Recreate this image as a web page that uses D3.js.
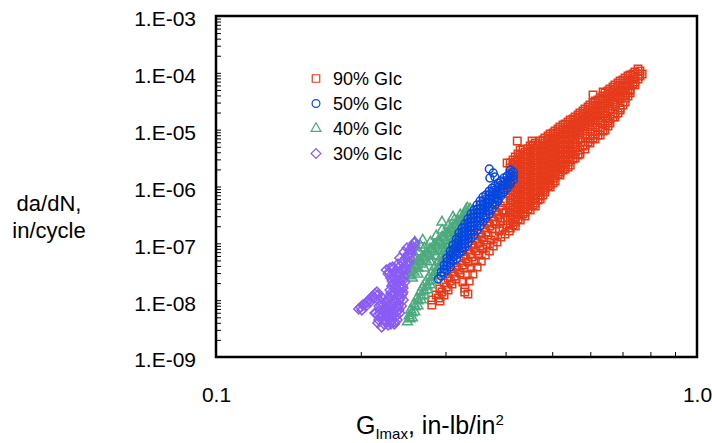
<!DOCTYPE html>
<html>
<head>
<meta charset="utf-8">
<script src="https://cdn.jsdelivr.net/npm/d3@7"></script>
<style>
  body { margin: 0; background: #fff; }
  svg { display: block; font-family: "Liberation Sans", Arial, sans-serif; }
</style>
</head>
<body>
<svg id="chart" width="712" height="443"></svg>
<script>
const seriesNames = ["90% GIc", "50% GIc", "40% GIc", "30% GIc"];
const seriesColors = ["#e63b1b", "#0747df", "#4caa7e", "#8b5cf4"];
const seriesShapes = ["square", "circle", "triangle", "diamond"];
const drawOrder = [0, 2, 1, 3];

const xMajor = [0.1, 1];
const xMajorLabels = ["0.1", "1.0"];
const yMajor = [1e-9, 1e-8, 1e-7, 1e-6, 1e-5, 1e-4, 1e-3];
const yMajorLabels = ["1.E-09", "1.E-08", "1.E-07", "1.E-06", "1.E-05", "1.E-04", "1.E-03"];

// G (in-lb/in^2), da/dN (in/cycle)
const glc90 = [
  [.281,8.22e-9],[.281,1.01e-8],[.287,1.23e-8],[.292,1.57e-8],[.298,2.00e-8],[.304,2.45e-8],[.310,3.12e-8],[.316,3.83e-8],
  [.322,4.88e-8],[.328,5.97e-8],[.334,7.62e-8],[.341,9.33e-8],[.347,1.19e-7],[.354,1.46e-7],[.361,1.86e-7],[.368,2.28e-7],
  [.375,2.90e-7],[.382,3.56e-7],[.390,4.53e-7],[.397,5.55e-7],
  [.290,1.09e-8],[.295,1.39e-8],[.301,1.70e-8],[.307,2.17e-8],[.313,2.66e-8],[.319,3.39e-8],[.325,4.15e-8],[.331,5.29e-8],
  [.338,6.48e-8],[.344,8.26e-8],[.351,1.01e-7],[.357,1.29e-7],[.364,1.58e-7],[.371,2.02e-7],[.379,2.47e-7],[.386,3.15e-7],[.393,3.86e-7],
  [.2923,9.69e-9],[.2979,1.23e-8],[.3037,1.51e-8],[.3095,1.92e-8],[.3156,2.35e-8],[.3217,3.00e-8],[.3280,3.67e-8],
  [.3342,4.69e-8],[.3407,5.74e-8],[.3473,7.32e-8],[.3540,8.96e-8],[.3608,1.14e-7],[.3678,1.40e-7],[.3749,1.79e-7],
  [.3821,2.19e-7],[.3895,2.79e-7],[.3970,3.41e-7],
  [.329,1.39e-8],[.334,1.28e-8],[.329,1.64e-8],[.336,2.17e-8],[.342,2.88e-8],[.349,3.83e-8],[.356,4.88e-8],[.363,6.22e-8],
  [.370,7.32e-8],[.377,8.96e-8],[.384,1.05e-7],[.391,1.29e-7],[.399,1.46e-7],[.407,1.65e-7],
  [.326,2.08e-8],[.333,2.77e-8],[.339,3.67e-8],[.346,4.88e-8],[.352,6.22e-8],[.359,7.93e-8],[.366,9.33e-8],[.373,1.14e-7],
  [.380,1.35e-7],[.388,1.65e-7],[.395,1.86e-7],[.403,2.10e-7],
  [.390,2.37e-7],[.399,2.79e-7],[.401,3.56e-7],
  [.423,6.32e-6],[.454,6.32e-6],[.403,2.59e-6],[.415,2.20e-6],[.608,4.07e-5],[.638,4.60e-5],[.754,1.166e-4],[.769,9.52e-5],
  [.409,2.59e-6],[.409,2.11e-6],[.409,1.73e-6],[.409,1.41e-6],[.409,1.15e-6],[.409,9.39e-7],[.409,7.67e-7],[.409,6.27e-7],
  [.409,5.12e-7],[.409,4.18e-7],[.409,3.41e-7],[.409,2.79e-7],[.409,2.28e-7],[.409,1.86e-7],
  [.419,3.30e-6],[.419,2.70e-6],[.419,2.20e-6],[.419,1.80e-6],[.419,1.47e-6],[.419,1.20e-6],[.419,9.78e-7],[.419,7.99e-7],
  [.419,6.53e-7],[.419,5.33e-7],[.419,4.35e-7],[.419,3.56e-7],[.419,2.90e-7],[.419,2.37e-7],[.419,2.02e-7],
  [.429,4.39e-6],[.429,3.58e-6],[.429,2.92e-6],[.429,2.39e-6],[.429,1.95e-6],[.429,1.59e-6],[.429,1.30e-6],[.429,1.06e-6],
  [.429,8.67e-7],[.429,7.08e-7],[.429,5.78e-7],[.429,4.72e-7],[.429,3.86e-7],[.429,3.15e-7],[.429,2.57e-7],
  [.439,4.05e-6],[.439,3.30e-6],[.439,2.70e-6],[.439,2.20e-6],[.439,1.80e-6],[.439,1.47e-6],[.439,1.20e-6],[.439,9.78e-7],
  [.439,7.99e-7],[.439,6.53e-7],[.439,5.33e-7],[.439,4.35e-7],[.439,3.56e-7],[.439,3.02e-7],
  [.450,5.16e-6],[.450,4.21e-6],[.450,3.44e-6],[.450,2.81e-6],[.450,2.29e-6],[.450,1.87e-6],[.450,1.53e-6],[.450,1.25e-6],
  [.450,1.02e-6],[.450,8.32e-7],[.450,6.80e-7],[.450,5.55e-7],[.450,4.53e-7],[.450,3.86e-7],
  [.461,5.82e-6],[.461,4.76e-6],[.461,3.89e-6],[.461,3.17e-6],[.461,2.59e-6],[.461,2.11e-6],[.461,1.73e-6],[.461,1.41e-6],
  [.461,1.15e-6],[.461,9.39e-7],[.461,7.67e-7],[.461,6.27e-7],[.461,5.12e-7],[.461,4.53e-7],
  [.472,6.32e-6],[.472,5.16e-6],[.472,4.21e-6],[.472,3.44e-6],[.472,2.81e-6],[.472,2.29e-6],[.472,1.87e-6],[.472,1.53e-6],
  [.472,1.25e-6],[.472,1.02e-6],[.472,8.32e-7],[.472,6.80e-7],[.472,6.02e-7],
  [.483,7.13e-6],[.483,5.82e-6],[.483,4.76e-6],[.483,3.89e-6],[.483,3.17e-6],[.483,2.59e-6],[.483,2.11e-6],[.483,1.73e-6],
  [.483,1.41e-6],[.483,1.15e-6],[.483,9.39e-7],[.483,7.99e-7],
  [.495,8.38e-6],[.495,6.85e-6],[.495,5.59e-6],[.495,4.57e-6],[.495,3.73e-6],[.495,3.05e-6],[.495,2.49e-6],[.495,2.03e-6],
  [.495,1.66e-6],[.495,1.35e-6],[.495,1.10e-6],[.495,9.78e-7],
  [.507,9.47e-6],[.507,7.73e-6],[.507,6.32e-6],[.507,5.16e-6],[.507,4.21e-6],[.507,3.44e-6],[.507,2.81e-6],[.507,2.29e-6],
  [.507,1.87e-6],[.507,1.53e-6],[.507,1.25e-6],
  [.519,1.12e-5],[.519,9.09e-6],[.519,7.42e-6],[.519,6.06e-6],[.519,4.95e-6],[.519,4.05e-6],[.519,3.30e-6],[.519,2.70e-6],
  [.519,2.20e-6],[.519,1.80e-6],[.519,1.59e-6],
  [.532,1.26e-5],[.532,1.03e-5],[.532,8.38e-6],[.532,6.85e-6],[.532,5.59e-6],[.532,4.57e-6],[.532,3.73e-6],[.532,3.05e-6],
  [.532,2.49e-6],[.532,2.03e-6],
  [.545,1.48e-5],[.545,1.21e-5],[.545,9.86e-6],[.545,8.05e-6],[.545,6.58e-6],[.545,5.37e-6],[.545,4.39e-6],[.545,3.58e-6],
  [.545,2.92e-6],[.545,2.39e-6],
  [.558,1.67e-5],[.558,1.37e-5],[.558,1.12e-5],[.558,9.09e-6],[.558,7.42e-6],[.558,6.06e-6],[.558,4.95e-6],[.558,4.05e-6],[.558,3.17e-6],
  [.571,1.97e-5],[.571,1.61e-5],[.571,1.31e-5],[.571,1.07e-5],[.571,8.73e-6],[.571,7.13e-6],[.571,4.39e-6],[.571,3.73e-6],
  [.585,2.31e-5],[.585,1.89e-5],[.585,1.54e-5],[.585,1.26e-5],[.585,1.03e-5],[.585,8.38e-6],[.585,5.37e-6],[.585,4.57e-6],
  [.599,2.72e-5],[.599,2.22e-5],[.599,1.81e-5],[.599,1.48e-5],[.599,1.21e-5],[.599,1.03e-5],[.599,6.85e-6],[.599,5.82e-6],
  [.614,3.20e-5],[.614,2.61e-5],[.614,2.13e-5],[.614,1.74e-5],[.614,1.42e-5],[.614,1.21e-5],[.614,8.38e-6],[.614,6.85e-6],
  [.629,3.61e-5],[.629,2.95e-5],[.629,2.41e-5],[.629,1.97e-5],[.629,1.61e-5],[.629,1.42e-5],[.629,9.86e-6],[.629,8.05e-6],
  [.644,4.42e-5],[.644,3.61e-5],[.644,2.95e-5],[.644,2.41e-5],[.644,1.97e-5],[.644,1.74e-5],[.644,1.21e-5],[.644,9.86e-6],
  [.659,5.20e-5],[.659,4.24e-5],[.659,3.47e-5],[.659,2.83e-5],[.659,2.31e-5],[.659,1.54e-5],[.659,1.31e-5],
  [.675,6.11e-5],[.675,4.99e-5],[.675,4.07e-5],[.675,3.33e-5],[.675,2.83e-5],[.675,1.89e-5],[.675,1.67e-5],
  [.692,7.18e-5],[.692,5.87e-5],[.692,4.79e-5],[.692,3.91e-5],[.692,3.47e-5],[.692,2.41e-5],[.692,2.22e-5],
  [.709,8.11e-5],[.709,6.62e-5],[.709,5.41e-5],[.709,4.42e-5],[.709,3.61e-5],[.709,3.07e-5],
  [.726,9.16e-5],[.726,7.48e-5],[.726,6.11e-5],[.726,4.99e-5],[.726,4.42e-5],
  [.743,1.033e-4],[.743,8.44e-5],[.743,6.90e-5],[.743,6.11e-5],
  [.761,1.075e-4],[.761,8.79e-5],
  [.4145,2.92e-6],[.4145,2.39e-6],[.4145,1.95e-6],[.4145,1.59e-6],[.4145,1.30e-6],[.4145,1.06e-6],[.4145,8.67e-7],
  [.4145,7.08e-7],[.4145,5.78e-7],[.4145,4.72e-7],[.4145,3.86e-7],[.4145,3.15e-7],[.4145,2.57e-7],[.4145,2.10e-7],
  [.4245,3.73e-6],[.4245,3.05e-6],[.4245,2.49e-6],[.4245,2.03e-6],[.4245,1.66e-6],[.4245,1.35e-6],[.4245,1.10e-6],
  [.4245,9.02e-7],[.4245,7.37e-7],[.4245,6.02e-7],[.4245,4.91e-7],[.4245,4.01e-7],[.4245,3.28e-7],[.4245,2.68e-7],
  [.4348,4.57e-6],[.4348,3.73e-6],[.4348,3.05e-6],[.4348,2.49e-6],[.4348,2.03e-6],[.4348,1.66e-6],[.4348,1.35e-6],
  [.4348,1.10e-6],[.4348,9.02e-7],[.4348,7.37e-7],[.4348,6.02e-7],[.4348,4.91e-7],[.4348,4.01e-7],[.4348,3.28e-7],
  [.4454,4.57e-6],[.4454,3.73e-6],[.4454,3.05e-6],[.4454,2.49e-6],[.4454,2.03e-6],[.4454,1.66e-6],[.4454,1.35e-6],
  [.4454,1.10e-6],[.4454,9.02e-7],[.4454,7.37e-7],[.4454,6.02e-7],[.4454,4.91e-7],[.4454,4.01e-7],
  [.4562,5.37e-6],[.4562,4.39e-6],[.4562,3.58e-6],[.4562,2.92e-6],[.4562,2.39e-6],[.4562,1.95e-6],[.4562,1.59e-6],
  [.4562,1.30e-6],[.4562,1.06e-6],[.4562,8.67e-7],[.4562,7.08e-7],[.4562,5.78e-7],[.4562,4.72e-7],
  [.4672,5.37e-6],[.4672,4.39e-6],[.4672,3.58e-6],[.4672,2.92e-6],[.4672,2.39e-6],[.4672,1.95e-6],[.4672,1.59e-6],
  [.4672,1.30e-6],[.4672,1.06e-6],[.4672,8.67e-7],[.4672,7.08e-7],[.4672,5.78e-7],
  [.4785,6.58e-6],[.4785,5.37e-6],[.4785,4.39e-6],[.4785,3.58e-6],[.4785,2.92e-6],[.4785,2.39e-6],[.4785,1.95e-6],
  [.4785,1.59e-6],[.4785,1.30e-6],[.4785,1.06e-6],[.4785,8.67e-7],[.4785,7.08e-7],
  [.4902,7.73e-6],[.4902,6.32e-6],[.4902,5.16e-6],[.4902,4.21e-6],[.4902,3.44e-6],[.4902,2.81e-6],[.4902,2.29e-6],
  [.4902,1.87e-6],[.4902,1.53e-6],[.4902,1.25e-6],[.4902,1.02e-6],
  [.5021,8.73e-6],[.5021,7.13e-6],[.5021,5.82e-6],[.5021,4.76e-6],[.5021,3.89e-6],[.5021,3.17e-6],[.5021,2.59e-6],
  [.5021,2.11e-6],[.5021,1.73e-6],[.5021,1.41e-6],[.5021,1.15e-6],
  [.5142,1.03e-5],[.5142,8.38e-6],[.5142,6.85e-6],[.5142,5.59e-6],[.5142,4.57e-6],[.5142,3.73e-6],[.5142,3.05e-6],
  [.5142,2.49e-6],[.5142,2.03e-6],[.5142,1.66e-6],
  [.5266,1.21e-5],[.5266,9.86e-6],[.5266,8.05e-6],[.5266,6.58e-6],[.5266,5.37e-6],[.5266,4.39e-6],[.5266,3.58e-6],
  [.5266,2.92e-6],[.5266,2.39e-6],[.5266,1.95e-6],
  [.5394,1.37e-5],[.5394,1.12e-5],[.5394,9.09e-6],[.5394,7.42e-6],[.5394,6.06e-6],[.5394,4.95e-6],[.5394,4.05e-6],
  [.5394,3.30e-6],[.5394,2.70e-6],[.5394,2.20e-6],
  [.5525,1.54e-5],[.5525,1.26e-5],[.5525,1.03e-5],[.5525,8.38e-6],[.5525,6.85e-6],[.5525,5.59e-6],[.5525,4.57e-6],
  [.5525,3.73e-6],[.5525,3.05e-6],
  [.5659,1.81e-5],[.5659,1.48e-5],[.5659,1.21e-5],[.5659,9.86e-6],[.5659,8.05e-6],[.5659,6.58e-6],[.5659,3.58e-6],
  [.5795,2.13e-5],[.5795,1.74e-5],[.5795,1.42e-5],[.5795,1.16e-5],[.5795,9.47e-6],[.5795,5.16e-6],
  [.5935,2.51e-5],[.5935,2.05e-5],[.5935,1.67e-5],[.5935,1.37e-5],[.5935,1.12e-5],[.5935,6.06e-6],
  [.6078,2.95e-5],[.6078,2.41e-5],[.6078,1.97e-5],[.6078,1.61e-5],[.6078,1.31e-5],[.6078,7.13e-6],
  [.6225,3.33e-5],[.6225,2.72e-5],[.6225,2.22e-5],[.6225,1.81e-5],[.6225,1.48e-5],[.6225,8.05e-6],
  [.6376,3.91e-5],[.6376,3.20e-5],[.6376,2.61e-5],[.6376,2.13e-5],[.6376,1.74e-5],[.6376,9.47e-6],
  [.6531,4.79e-5],[.6531,3.91e-5],[.6531,3.20e-5],[.6531,2.61e-5],[.6531,2.13e-5],[.6531,1.42e-5],[.6531,1.16e-5],
  [.6689,5.63e-5],[.6689,4.60e-5],[.6689,3.76e-5],[.6689,3.07e-5],[.6689,1.67e-5],
  [.6851,6.62e-5],[.6851,5.41e-5],[.6851,4.42e-5],[.6851,3.61e-5],[.6851,1.97e-5],
  [.7017,7.48e-5],[.7017,6.11e-5],[.7017,4.99e-5],[.7017,4.07e-5],[.7017,2.72e-5],
  [.7187,8.79e-5],[.7187,7.18e-5],[.7187,5.87e-5],[.7187,4.79e-5],[.7187,3.91e-5],
  [.7361,9.52e-5],[.7361,7.79e-5],[.7361,6.36e-5],
  [.7540,9.52e-5],[.7540,7.79e-5]
];

const glc50 = [
  [.290,2.35e-8],[.294,3.12e-8],[.294,2.66e-8],
  [.298,4.15e-8],[.298,3.53e-8],[.298,3.00e-8],
  [.302,5.51e-8],[.302,4.69e-8],[.302,3.99e-8],[.302,3.39e-8],
  [.307,7.32e-8],[.307,6.22e-8],[.307,5.29e-8],[.307,4.50e-8],[.307,3.83e-8],
  [.311,9.33e-8],[.311,7.93e-8],[.311,6.75e-8],[.311,5.74e-8],[.311,4.88e-8],
  [.316,1.19e-7],[.316,1.01e-7],[.316,8.60e-8],[.316,7.32e-8],[.316,6.22e-8],[.316,5.29e-8],
  [.320,1.52e-7],[.320,1.29e-7],[.320,1.095e-7],[.320,9.33e-8],[.320,7.93e-8],[.320,6.75e-8],
  [.325,1.86e-7],[.325,1.58e-7],[.325,1.35e-7],[.325,1.14e-7],[.325,9.70e-8],[.325,8.26e-8],[.325,7.32e-8],
  [.329,2.19e-7],[.329,1.86e-7],[.329,1.58e-7],[.329,1.35e-7],[.329,1.14e-7],[.329,9.70e-8],[.329,8.60e-8],
  [.334,2.68e-7],[.334,2.28e-7],[.334,1.94e-7],[.334,1.65e-7],[.334,1.40e-7],[.334,1.19e-7],[.334,1.01e-7],
  [.339,3.28e-7],[.339,2.79e-7],[.339,2.37e-7],[.339,2.02e-7],[.339,1.71e-7],[.339,1.46e-7],[.339,1.24e-7],
  [.344,3.86e-7],[.344,3.28e-7],[.344,2.79e-7],[.344,2.37e-7],[.344,2.02e-7],[.344,1.71e-7],[.344,1.40e-7],
  [.349,4.72e-7],[.349,4.01e-7],[.349,3.41e-7],[.349,2.90e-7],[.349,2.47e-7],[.349,2.10e-7],[.349,1.71e-7],
  [.354,5.55e-7],[.354,4.72e-7],[.354,4.01e-7],[.354,3.41e-7],[.354,2.90e-7],[.354,2.47e-7],[.354,2.02e-7],
  [.359,6.53e-7],[.359,5.55e-7],[.359,4.72e-7],[.359,4.01e-7],[.359,3.41e-7],[.359,2.90e-7],[.359,2.37e-7],
  [.364,7.08e-7],[.364,6.02e-7],[.364,5.12e-7],[.364,4.35e-7],[.364,3.70e-7],[.364,3.15e-7],[.364,2.79e-7],
  [.370,8.32e-7],[.370,7.08e-7],[.370,6.02e-7],[.370,5.12e-7],[.370,4.35e-7],[.370,3.70e-7],[.370,3.28e-7],
  [.375,9.39e-7],[.375,7.99e-7],[.375,6.80e-7],[.375,5.78e-7],[.375,4.91e-7],[.375,4.01e-7],
  [.380,1.02e-6],[.380,8.67e-7],[.380,7.37e-7],[.380,6.27e-7],[.380,5.33e-7],[.380,4.72e-7],
  [.386,1.15e-6],[.386,9.78e-7],[.386,8.32e-7],[.386,7.08e-7],[.386,6.02e-7],[.386,5.55e-7],
  [.391,1.25e-6],[.391,1.06e-6],[.391,9.02e-7],[.391,7.67e-7],[.391,6.80e-7],
  [.397,1.41e-6],[.397,1.20e-6],[.397,1.02e-6],[.397,8.67e-7],[.397,7.99e-7],
  [.403,1.53e-6],[.403,1.30e-6],[.403,1.10e-6],[.403,9.39e-7],
  [.409,1.66e-6],[.409,1.41e-6],[.409,1.20e-6],[.409,1.10e-6],
  [.415,1.80e-6],[.415,1.53e-6],[.415,1.30e-6],
  [.370,2.03e-6],[.371,1.41e-6],[.380,1.47e-6],[.377,1.73e-6],[.409,1.95e-6]
];

const glc40 = [
  [.251,2.88e-8],[.256,3.39e-8],[.261,3.99e-8],[.266,4.69e-8],[.271,5.51e-8],[.276,6.48e-8],[.281,7.62e-8],[.287,8.96e-8],
  [.292,1.05e-7],[.298,1.24e-7],[.304,1.46e-7],[.310,1.71e-7],[.316,2.02e-7],[.322,2.37e-7],[.328,2.79e-7],[.334,3.28e-7],[.341,3.70e-7],
  [.258,5.51e-8],[.264,7.03e-8],[.271,8.26e-8],[.279,1.05e-7],[.287,1.35e-7],[.295,1.71e-7],[.304,2.02e-7],[.313,2.57e-7],
  [.322,3.15e-7],[.331,3.86e-7],
  [.259,1.05e-7],[.269,1.14e-7],[.295,2.37e-7],[.311,2.90e-7],[.333,4.18e-7],
  [.2556,7.62e-8],[.2605,8.60e-8],[.2656,9.33e-8],
  [.256,2.45e-8],[.263,2.88e-8],[.271,3.67e-8],[.279,4.69e-8],[.287,5.97e-8],[.295,7.62e-8],[.304,9.70e-8],[.313,1.24e-7],
  [.322,1.58e-7],[.331,2.02e-7],[.339,2.57e-7],
  [.2531,3.53e-8],[.2580,4.15e-8],[.2630,4.88e-8],[.2681,5.74e-8],[.2733,6.75e-8],[.2786,7.93e-8],[.2840,9.33e-8],
  [.2895,1.095e-7],[.2951,1.29e-7],[.3008,1.52e-7],[.3066,1.79e-7],[.3125,2.10e-7],[.3186,2.47e-7],[.3248,2.90e-7],
  [.3310,3.41e-7],[.3375,4.01e-7],
  [.2531,2.66e-8],[.2580,3.12e-8],[.2630,3.67e-8],[.2681,4.32e-8],[.2733,5.08e-8],[.2786,5.97e-8],[.2840,7.03e-8],
  [.2895,8.26e-8],[.2951,9.70e-8],[.3008,1.14e-7],[.3066,1.35e-7],[.3125,1.58e-7],[.3186,1.86e-7],[.3248,2.19e-7],
  [.3310,2.57e-7],[.3375,3.02e-7],
  [.250,4.13e-9],[.252,5.26e-9],[.254,6.71e-9],[.258,8.58e-9],[.262,1.09e-8],[.266,1.39e-8],[.269,1.70e-8],[.273,2.08e-8],
  [.277,2.55e-8],[.281,3.12e-8],[.285,3.83e-8],[.290,4.69e-8],[.294,5.74e-8],[.298,7.03e-8],[.302,8.26e-8],[.307,9.70e-8],[.311,1.14e-7],
  [.256,4.85e-9],[.259,6.19e-9],[.263,7.90e-9],[.267,1.01e-8],[.271,1.23e-8],[.275,1.51e-8],[.279,1.85e-8],[.283,2.26e-8],
  [.287,2.77e-8],[.291,3.39e-8],[.295,4.15e-8],[.299,5.08e-8],[.304,5.97e-8],[.308,7.03e-8],[.314,8.26e-8],
  [.2531,4.66e-9],[.2556,5.94e-9],[.2593,7.58e-9],[.2630,9.69e-9],[.2669,1.18e-8],[.2707,1.45e-8],[.2746,1.77e-8],
  [.2786,2.17e-8],[.2826,2.66e-8],[.2867,3.25e-8],[.2909,3.99e-8],[.2951,4.88e-8],[.2993,5.97e-8],[.3037,7.03e-8],[.3081,8.26e-8]
];

const glc30 = [
  [.198,6.99e-9],[.200,7.58e-9],[.202,8.22e-9],[.204,8.58e-9],[.206,9.30e-9],[.208,1.01e-8],[.210,1.09e-8],[.212,1.18e-8],
  [.214,1.28e-8],[.216,1.39e-8],[.201,6.71e-9],[.205,7.90e-9],[.209,9.30e-9],[.213,1.09e-8],[.217,1.23e-8],[.218,1.01e-8],
  [.220,8.22e-9],[.219,6.71e-9],[.217,5.48e-9],[.215,5.94e-9],[.218,4.48e-9],[.222,1.09e-8],[.225,9.30e-9],[.227,7.90e-9],
  [.229,6.71e-9],[.225,6.19e-9],[.222,5.26e-9],[.227,4.85e-9],[.230,4.13e-9],[.233,5.26e-9],[.237,6.19e-9],[.232,8.58e-9],
  [.236,1.01e-8],[.239,1.18e-8],[.234,1.34e-8],[.230,1.51e-8],[.232,1.77e-8],[.237,1.64e-8],[.241,1.39e-8],[.244,1.77e-8],
  [.240,2.08e-8],[.236,2.26e-8],[.231,2.45e-8],[.228,2.88e-8],[.226,3.39e-8],[.230,3.67e-8],[.235,3.12e-8],[.239,2.66e-8],
  [.243,3.39e-8],[.246,2.66e-8],[.247,3.99e-8],[.244,4.69e-8],[.248,5.51e-8],[.251,6.48e-8],[.253,7.62e-8],[.256,8.96e-8],
  [.258,1.01e-7],[.253,5.51e-8],[.250,4.32e-8],[.247,2.08e-8],[.245,1.01e-8],[.243,7.90e-9],[.240,6.71e-9],[.241,5.94e-9],
  [.238,4.48e-9],[.228,3.66e-9],[.221,3.37e-9],[.217,3.96e-9],[.214,5.94e-9],[.246,7.03e-8],[.241,5.51e-8],[.233,3.83e-8],
  [.224,7.28e-9],[.228,1.01e-8],[.232,1.18e-8],[.237,7.90e-9],[.231,5.71e-9],[.226,4.13e-9],[.235,3.81e-9],[.240,8.58e-9],
  [.244,1.28e-8],[.248,3.39e-8],[.238,1.92e-8],[.245,2.26e-8],[.239,3.67e-8],[.252,4.69e-8],[.259,1.05e-7],[.257,8.26e-8],
  [.2334,1.92e-8],[.2425,2.26e-8],[.2379,1.45e-8],[.2425,1.14e-8],[.2290,1.14e-8],[.2214,8.93e-9],[.2257,6.71e-9],
  [.2300,7.58e-9],[.2345,6.99e-9],[.2390,7.58e-9],[.2193,5.71e-9],[.2235,4.48e-9],[.2279,5.94e-9],[.2323,4.48e-9],
  [.2367,5.26e-9],[.2235,3.81e-9],[.2311,3.81e-9],[.2290,3.12e-8],[.2334,2.66e-8],[.2379,3.12e-8],[.2390,4.32e-8],
  [.2495,8.26e-8],[.2544,6.48e-8],[.2448,1.39e-8],
  [.2182,7.90e-9],[.2225,6.45e-9],[.2268,4.13e-9],[.2356,4.13e-9],[.2402,1.01e-8],[.2334,1.01e-8],[.2311,1.34e-8],
  [.2356,1.70e-8],[.2402,1.70e-8],[.2448,1.64e-8],[.2323,2.17e-8],[.2413,3.00e-8],[.2448,3.39e-8],[.2345,3.67e-8],
  [.2460,5.08e-8],[.2279,5.05e-9],[.2193,4.85e-9]
];

const seriesData = [glc90, glc50, glc40, glc30];

const plotLeft = 216, plotRight = 697, plotTop = 16, plotBottom = 357;

const svg = d3.select("#chart");

const x = d3.scaleLog().domain([0.1, 1]).range([plotLeft, plotRight]);
const y = d3.scaleLog().domain([1e-9, 1e-3]).range([plotBottom, plotTop]);

const shapes = {
  square: d3.symbol(d3.symbolSquare, 56)(),
  circle: d3.symbol(d3.symbolCircle, 48)(),
  triangle: d3.symbol(d3.symbolTriangle, 42)(),
  diamond: d3.symbol(d3.symbolSquare, 48)()
};
const rot = (shape) => (shape === "diamond" ? " rotate(45)" : "");

svg.append("defs").append("clipPath").attr("id", "clip")
  .append("rect").attr("x", plotLeft).attr("y", plotTop)
  .attr("width", plotRight - plotLeft).attr("height", plotBottom - plotTop);

const plot = svg.append("g").attr("clip-path", "url(#clip)");

drawOrder.forEach((i) => {
  plot.append("g")
    .selectAll("path")
    .data(seriesData[i])
    .join("path")
    .attr("d", shapes[seriesShapes[i]])
    .attr("transform", (d) => `translate(${x(d[0])},${y(d[1])})${rot(seriesShapes[i])}`)
    .attr("fill", "none")
    .attr("stroke", seriesColors[i])
    .attr("stroke-width", 1.5);
});

// minor ticks, drawn inward
const yMinor = svg.append("g").attr("transform", `translate(${plotLeft},0)`)
  .call(d3.axisLeft(y).tickValues(y.ticks()).tickSize(-5).tickFormat(""));
yMinor.select(".domain").remove();
yMinor.selectAll("line").attr("stroke", "#000").attr("stroke-width", 1);

const xMinor = svg.append("g").attr("transform", `translate(0,${plotBottom})`)
  .call(d3.axisBottom(x).tickValues(x.ticks()).tickSize(-5).tickFormat(""));
xMinor.select(".domain").remove();
xMinor.selectAll("line").attr("stroke", "#000").attr("stroke-width", 1);

// tick labels
const yLab = svg.append("g").attr("transform", `translate(${plotLeft},0)`)
  .call(d3.axisLeft(y).tickValues(yMajor).tickSize(0).tickPadding(20)
    .tickFormat((d, i) => yMajorLabels[i]));
yLab.select(".domain").remove();
yLab.attr("font-size", 21).attr("font-family", "Liberation Sans, Arial, sans-serif");
yLab.selectAll("text").attr("dy", "0.47em").attr("fill", "#000");

const xLab = svg.append("g").attr("transform", `translate(0,${plotBottom})`)
  .call(d3.axisBottom(x).tickValues(xMajor).tickSize(0).tickPadding(30)
    .tickFormat((d, i) => xMajorLabels[i]));
xLab.select(".domain").remove();
xLab.attr("font-size", 21).attr("font-family", "Liberation Sans, Arial, sans-serif");
xLab.selectAll("text").attr("fill", "#000");

// frame
svg.append("rect")
  .attr("x", plotLeft).attr("y", plotTop)
  .attr("width", plotRight - plotLeft).attr("height", plotBottom - plotTop)
  .attr("fill", "none").attr("stroke", "#000").attr("stroke-width", 2.5);

// legend
const legend = svg.append("g");
seriesNames.forEach((name, i) => {
  const cy = 78.5 + i * 25;
  legend.append("path")
    .attr("d", shapes[seriesShapes[i]])
    .attr("transform", `translate(316,${cy})${rot(seriesShapes[i])}`)
    .attr("fill", "none")
    .attr("stroke", seriesColors[i])
    .attr("stroke-width", 1.2);
  legend.append("text")
    .attr("x", 333).attr("y", cy + 6.5)
    .attr("font-size", 18)
    .text(name);
});

// axis titles
const yTitle = svg.append("text").attr("text-anchor", "middle").attr("font-size", 22);
yTitle.append("tspan").attr("x", 49).attr("y", 211).text("da/dN,");
yTitle.append("tspan").attr("x", 49).attr("y", 238).text("in/cycle");

const xTitle = svg.append("text").attr("x", 356).attr("y", 434).attr("font-size", 25);
xTitle.append("tspan").text("G");
xTitle.append("tspan").attr("font-size", 15).attr("dy", 5).text("Imax");
xTitle.append("tspan").attr("dy", -5).text(", in-lb/in");
xTitle.append("tspan").attr("font-size", 15).attr("dy", -9).text("2");
</script>
</body>
</html>
